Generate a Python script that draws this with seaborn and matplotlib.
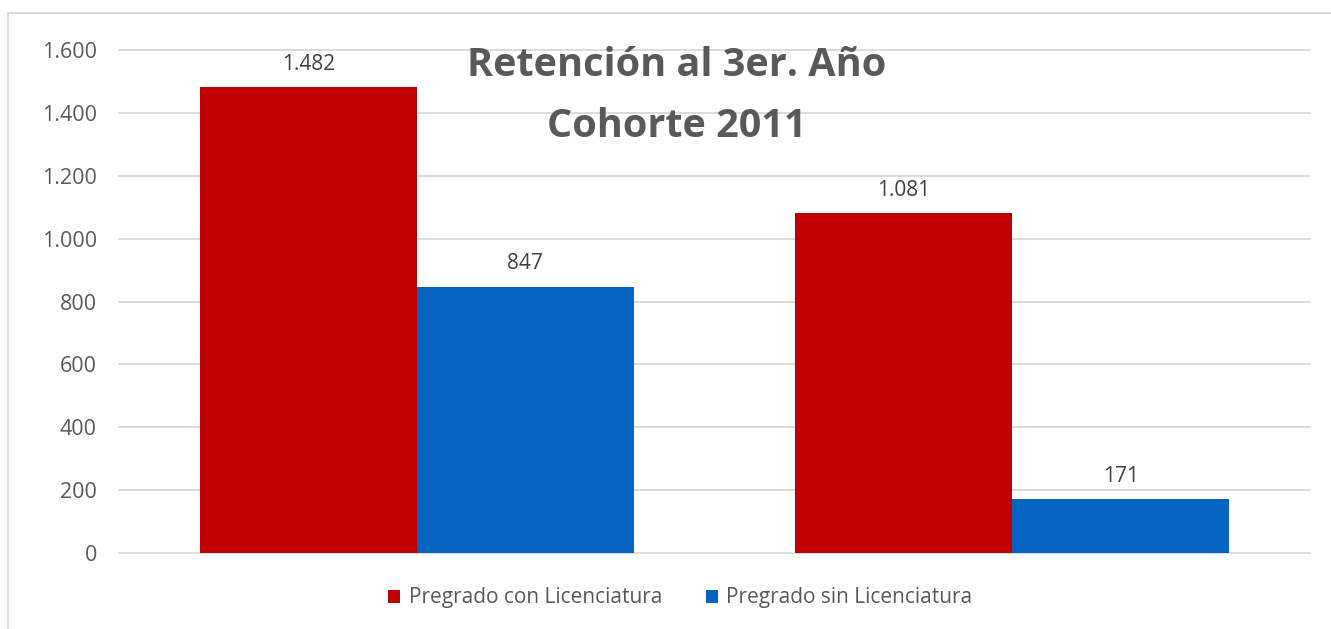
import matplotlib
matplotlib.use("Agg")
import matplotlib.pyplot as plt
from matplotlib.patches import Rectangle
import seaborn as sns
import pandas as pd

categories = ["Cohorte A", "Cohorte B"]
series_names = ["Pregrado con Licenciatura", "Pregrado sin Licenciatura"]
con_lic = [1482, 1081]
sin_lic = [847, 171]
yticks = [0, 200, 400, 600, 800, 1000, 1200, 1400, 1600]
colors = ["#C00000", "#0563C1"]
title = "Retención al 3er. Año\nCohorte 2011"

def fmt(v):
    return f"{v:,.0f}".replace(",", ".")

df = pd.DataFrame({
    "cat": categories * 2,
    "serie": [series_names[0]] * 2 + [series_names[1]] * 2,
    "valor": con_lic + sin_lic,
})

sns.set_theme(style="white")
plt.rcParams["font.family"] = ["Open Sans", "DejaVu Sans"]
text_color = "#595959"

fig = plt.figure(figsize=(13.31, 6.29), dpi=100)
ax = fig.add_axes([119 / 1331, 1 - 553 / 629, (1310 - 119) / 1331, (553 - 50) / 629])

sns.barplot(data=df, x="cat", y="valor", hue="serie", order=categories,
            hue_order=series_names, palette=colors, width=0.729,
            saturation=1, linewidth=0, ax=ax, legend=True)

ax.set_ylim(0, 1600)
ax.set_yticks(yticks)
ax.set_yticklabels([fmt(v) for v in yticks], color=text_color, fontsize=15.5)
ax.set_xticks([])
ax.set_xlabel("")
ax.set_ylabel("")
for s in ax.spines.values():
    s.set_visible(False)
ax.tick_params(axis="y", length=0, pad=16)
ax.yaxis.grid(True, color="#D9D9D9", linewidth=1.3)
ax.set_axisbelow(True)
for gl in ax.get_ygridlines():
    gl.set_clip_on(False)

for cont in ax.containers:
    ax.bar_label(cont, labels=[fmt(v) for v in cont.datavalues],
                 padding=9, fontsize=15, color="#404040")

fig.text(0.5085, 1 - 96 / 629, title, ha="center", va="center",
         fontsize=28.5, fontweight="bold", color=text_color, linespacing=1.72)

handles, labels = ax.get_legend_handles_labels()
ax.legend_.remove()
fig.legend(handles, labels, loc="center", bbox_to_anchor=(0.511, 1 - 598 / 629),
           ncol=2, frameon=False, fontsize=15, labelcolor=text_color,
           handlelength=0.6, handleheight=0.6, handletextpad=0.4,
           columnspacing=2.1)

fig.patches.append(Rectangle((8 / 1331, -0.1), 1.2, (629 - 13) / 629 + 0.1,
                             transform=fig.transFigure, fill=False,
                             edgecolor="#D9D9D9", linewidth=1.3))

fig.savefig("out.png", dpi=100, facecolor="white")
